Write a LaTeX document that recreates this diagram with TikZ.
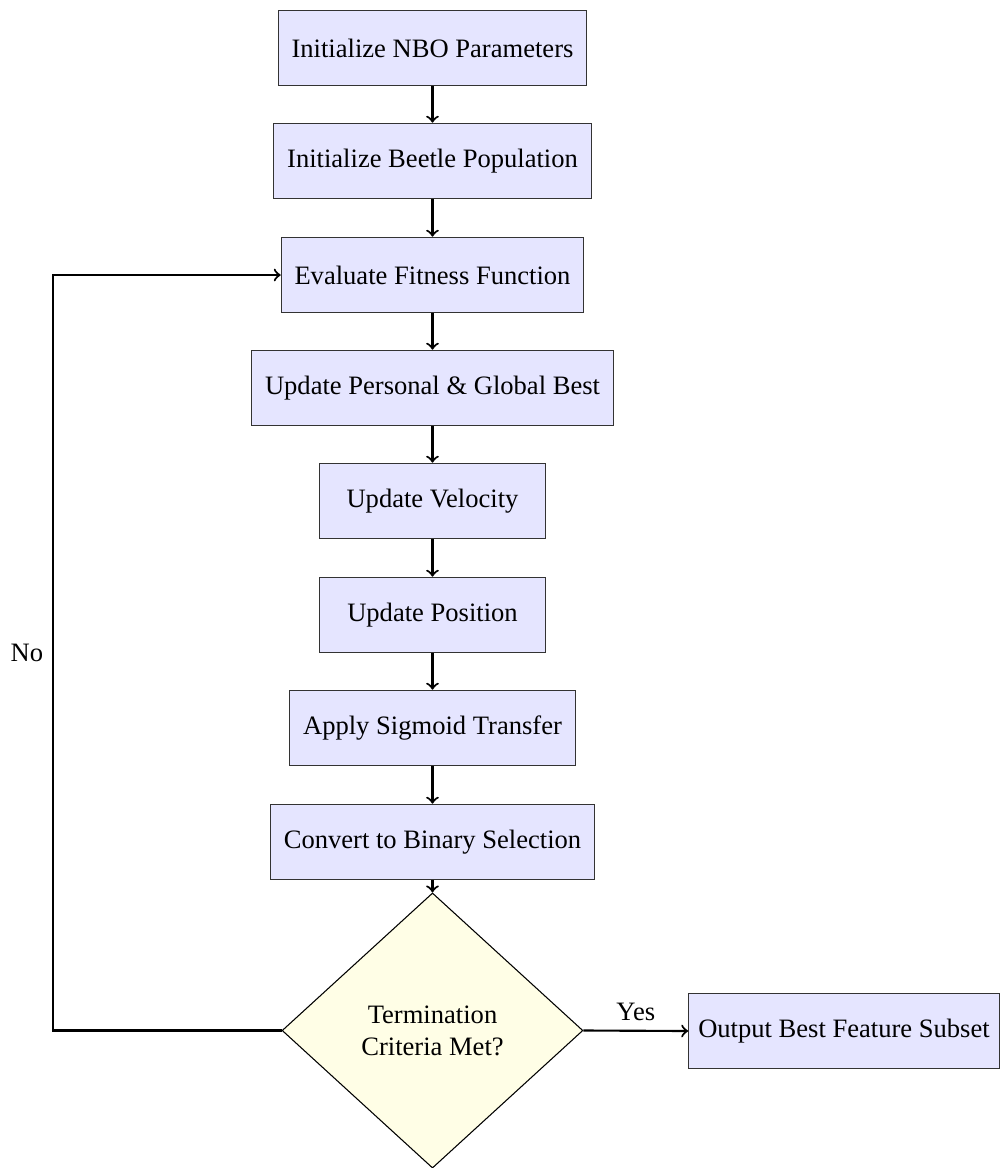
\documentclass[tikz,border=0pt]{standalone}
\usepackage{fontspec}
\setmainfont{Liberation Serif}
\usetikzlibrary{shapes.geometric,arrows}
\begin{document}
\begin{tikzpicture}[x=0.013228cm, y=-0.013228cm,
  procbox/.style={rectangle, draw=black!80, fill=blue!10, minimum width=3cm, minimum height=1cm, align=center, inner xsep=5pt, inner ysep=3.6pt},
  decbox/.style={diamond, draw=black, fill=yellow!10, minimum width=3.98cm, minimum height=3.64cm, align=center, inner sep=0pt},
  arr/.style={->, thick}]
\useasboundingbox (0,0) rectangle (1000,1168);
\node[procbox] (init) at (432.5,48) {Initialize NBO Parameters};
\node[procbox] (pop) at (432.5,161) {Initialize Beetle Population};
\node[procbox] (eval) at (432.5,275) {Evaluate Fitness Function};
\node[procbox] (best) at (432.5,388) {Update Personal \& Global Best};
\node[procbox] (vel) at (432.5,501) {Update Velocity};
\node[procbox] (pos) at (432.5,615) {Update Position};
\node[procbox] (sig) at (432.5,728) {Apply Sigmoid Transfer};
\node[procbox] (bin) at (432.5,842) {Convert to Binary Selection};
\node[decbox] (term) at (432.5,1030.5) {Termination\\Criteria Met?};
\node[procbox, inner xsep=3.6pt] (out) at (844,1031) {Output Best Feature Subset};
\coordinate (loop) at (53,1031);
\draw[arr] (init) -- (pop);
\draw[arr] (pop) -- (eval);
\draw[arr] (eval) -- (best);
\draw[arr] (best) -- (vel);
\draw[arr] (vel) -- (pos);
\draw[arr] (pos) -- (sig);
\draw[arr] (sig) -- (bin);
\draw[arr] (bin) -- (term);
\draw[arr] (term.east) -- node[above] {Yes} (out.west);
\draw[arr] (term.west) -- (term.west -| loop) |- node[pos=0.25, left] {No} (eval.west);
\end{tikzpicture}
\end{document}
